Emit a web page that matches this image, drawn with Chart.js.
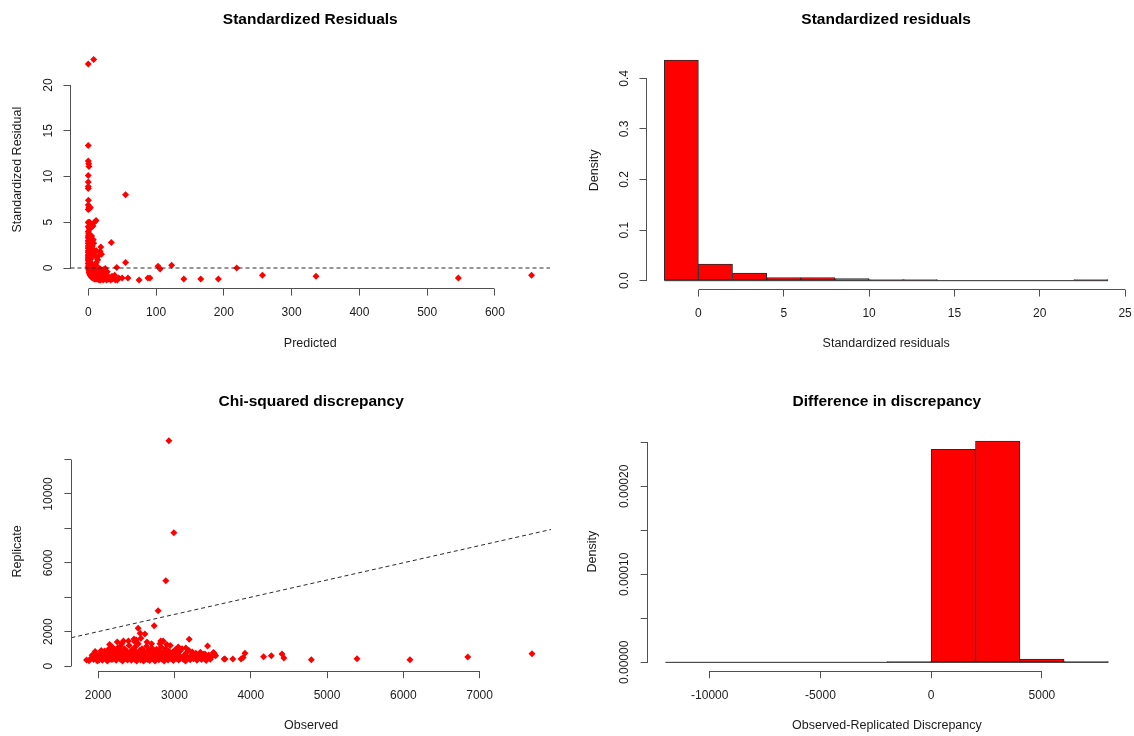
<!DOCTYPE html>
<html>
<head>
<meta charset="utf-8">
<title>Model checking plots</title>
<script src="https://cdn.jsdelivr.net/npm/chart.js@4.4.1/dist/chart.umd.min.js"></script>
<style>
  html, body { margin: 0; padding: 0; background: #ffffff; }
  #wrap { position: relative; width: 1134px; height: 736px; overflow: hidden; }
  #wrap canvas { position: absolute; }
</style>
</head>
<body>
<div id="wrap">
  <canvas id="pResid" width="567" height="368" style="left:0;top:0"></canvas>
  <canvas id="pResidHist" width="567" height="368" style="left:567px;top:0"></canvas>
  <canvas id="pChi" width="567" height="368" style="left:0;top:368px"></canvas>
  <canvas id="pDiff" width="567" height="368" style="left:567px;top:368px"></canvas>
</div>
<script>
// ---- Standardized residuals vs predicted: [predicted, standardized residual]
const residPairs = [
  [0,22.3],[8,22.8],[0,13.4],[0,11.7],[0.6,11.4],[1,11.1],[0,10.1],[0,9.4],[0,8.9],[0,8.7],
  [0.3,7.4],[0,6.9],[55,8.0],[1,6.6],[3,6.6],[0,6.4],[2,6.5],[0,5.0],[1,4.9],[2,5.0],
  [3,4.8],[11.5,5.2],[9,5.0],[7,4.6],[0,4.5],[1.5,4.3],[4,4.4],[0,4.0],[0.5,3.8],[1,3.7],
  [0,3.5],[2,3.6],[0,3.3],[1,3.2],[3,3.1],[0,3.0],[0.5,2.9],[2,2.8],[0,2.7],[1,2.6],
  [7.5,3.1],[0,2.4],[1.5,2.3],[0,2.2],[0.5,2.1],[2.5,2.0],[0,1.9],[1,1.8],[0,1.7],[3,1.6],
  [0.5,1.5],[0,1.4],[2,1.3],[0,1.2],[1,1.1],[4,1.0],[0,1.0],[0.5,0.9],[0,0.8],[2,0.7],
  [1,0.6],[0,0.5],[3,0.4],[0.5,0.3],[1.5,0.2],[0,0.1],[5,0.5],[6,1.6],[8,2.0],[8,2.7],
  [6,2.4],[5,3.5],[4,2.2],[10,1.3],[12,1.9],[34,2.8],[18.5,2.3],[17.5,1.8],[19.5,1.5],[16,1.4],
  [14,0.9],[12,0.6],[9,0.3],[55,0.6],[42,0.05],[25,-0.05],[103,0.2],[106,-0.1],[123,0.3],[219,0.0],
  [257,-0.8],[336,-0.9],[546,-1.1],[654,-0.8],
  [0.5,-0.1],[1,-0.3],[1.5,-0.5],[2,-0.6],[2.5,-0.7],[3,-0.8],[4,-0.9],[5,-1.0],[6,-1.0],[7,-1.1],
  [8,-1.1],[9,-1.2],[10,-1.2],[12,-1.2],[14,-1.2],[16,-1.3],[18,-1.3],[20,-1.2],[22,-1.3],[24,-1.2],
  [27,-1.3],[30,-1.2],[33,-1.3],[36,-1.2],[40,-1.3],[43,-1.3],[1,-0.1],[2,-0.3],[3,-0.4],[4,-0.5],
  [5,-0.6],[6,-0.6],[7,-0.8],[9,-0.9],[11,-0.7],[13,-1.0],[15,-0.9],[17,-1.1],[19,-0.9],[21,-1.0],
  [23,-0.8],[25,-1.1],[26,-0.6],[28,-0.9],[31,-1.0],[32,-1.1],[35,-0.9],[39,-0.8],[45,-1.1],[50,-1.1],
  [58.5,-1.1],[75,-1.3],[88,-1.1],[91,-1.1],[141,-1.2],[166,-1.2],[192,-1.2],[3,-0.1],[5,-0.2],[7,-0.3],
  [9,-0.5],[11,-0.2],[13,-0.4],[16,-0.6],[20,-0.5],[22,-0.2],[18,-0.1],[28,-0.4],[14,0.1],[10,0.2],[6,0.0]
];
const residRefLevel = 0;

// ---- Histogram of standardized residuals (density per bin)
const residBreaks = [-2, 0, 2, 4, 6, 8, 10, 12, 14, 16, 18, 20, 22, 24];
const residDensity = [0.436, 0.033, 0.015, 0.006, 0.006, 0.004, 0.002, 0.002, 0, 0, 0, 0, 0.002];

// ---- Chi-squared discrepancy: [observed, replicate]
const discPairs = [
  [2927,13100],[2992,7750],[2887,4960],[2786,3215],[2734,2345],[2524,2190],[2550,1900],[2612,1860],[2560,1620],[2500,1510],
  [2470,1570],[2475,1420],[2397,1450],[2331,1450],[2852,1450],[2820,1450],[3193,1550],[3434,1163],[3529,640],[3651,407],
  [3521,738],[3662,407],[3765,407],[3924,740],[3872,407],[3900,500],[4168,543],[4270,601],[4410,698],[4434,465],
  [4794,368],[5393,426],[6087,368],[6845,523],[7687,717],[1848,349],[1880,310],[1925,500],
  [1900,420],[1920,620],[1940,380],[1960,700],[1975,520],[1990,300],[2010,640],[2025,450],[2040,780],[2055,340],
  [2070,560],[2085,880],[2100,420],[2110,690],[2120,300],[2135,980],[2145,520],[2160,760],[2170,380],[2185,1100],
  [2195,600],[2210,450],[2220,830],[2235,330],[2245,700],[2255,1050],[2265,520],[2280,920],[2290,400],[2300,650],
  [2310,780],[2320,300],[2335,560],[2345,1000],[2355,440],[2365,720],[2375,860],[2385,350],[2395,600],[2405,1200],
  [2415,480],[2425,790],[2435,330],[2445,950],[2455,560],[2465,680],[2475,400],[2485,1100],[2495,820],[2505,300],
  [2515,620],[2525,1300],[2535,470],[2545,900],[2555,370],[2565,720],[2575,1000],[2585,540],[2595,300],[2605,850],
  [2615,450],[2625,680],[2635,1150],[2645,380],[2655,600],[2665,930],[2675,320],[2685,760],[2695,520],[2705,1050],
  [2715,420],[2725,650],[2735,860],[2745,300],[2755,580],[2765,980],[2775,440],[2785,720],[2795,360],[2805,900],
  [2815,540],[2825,1100],[2835,400],[2845,680],[2855,820],[2865,300],[2875,600],[2885,1000],[2895,460],[2905,740],
  [2915,350],[2925,880],[2935,560],[2945,1200],[2955,420],[2965,660],[2975,800],[2985,320],[2995,580],[3010,950],
  [3025,440],[3040,700],[3055,350],[3070,860],[3085,520],[3100,1000],[3115,400],[3130,640],[3145,300],[3160,780],
  [3175,480],[3190,900],[3205,360],[3220,620],[3235,820],[3250,420],[3265,560],[3280,740],[3295,330],[3310,650],
  [3325,480],[3340,800],[3355,380],[3370,580],[3385,450],[3400,700],[3415,320],[3430,520],[3450,640],[3470,400],
  [3490,560],[3510,780],[3540,600],
  [2010,350],[2060,480],[2130,620],[2190,400],[2240,540],[2300,480],[2360,580],[2420,620],[2480,520],[2540,640],
  [2600,560],[2660,500],[2720,560],[2780,600],[2840,520],[2900,580],[2960,500],[3020,620],[3080,450],[3140,540],
  [3200,500],[3260,640],[3320,560],[3380,680],[2210,950],[2290,1150],[2150,1250],[2250,1400],[2310,1300],[2700,1300],
  [2640,1400],[2810,1300],[2900,1250],[3050,1100],[3150,1050],[2160,880],[2040,900],[1960,850]
];
const discRefSlope = 1;
const discRefIntercept = 0;

// ---- Histogram of observed minus replicated discrepancy (density per bin)
const diffBreaks = [-12000, -10000, -8000, -6000, -4000, -2000, 0, 2000, 4000, 6000, 8000];
const diffDensity = [0, 0, 0, 0, 0, 0.000001, 0.000242, 0.0002515, 0.0000038, 0.000001];

// ---- Tick values and their printed labels
const residXTicks = [0, 100, 200, 300, 400, 500, 600];
const residXLabels = ['0', '100', '200', '300', '400', '500', '600'];
const residYTicks = [0, 5, 10, 15, 20];
const residYLabels = ['0', '5', '10', '15', '20'];
const histXTicks = [0, 5, 10, 15, 20, 25];
const histXLabels = ['0', '5', '10', '15', '20', '25'];
const histYTicks = [0, 0.1, 0.2, 0.3, 0.4];
const histYLabels = ['0.0', '0.1', '0.2', '0.3', '0.4'];
const chiXTicks = [2000, 3000, 4000, 5000, 6000, 7000];
const chiXLabels = ['2000', '3000', '4000', '5000', '6000', '7000'];
const chiYTicks = [0, 2000, 4000, 6000, 8000, 10000, 12000];
const chiYLabels = ['0', '2000', '', '6000', '', '10000', ''];
const diffXTicks = [-10000, -5000, 0, 5000];
const diffXLabels = ['-10000', '-5000', '0', '5000'];
const diffYTicks = [0, 0.00005, 0.0001, 0.00015, 0.0002, 0.00025];
const diffYLabels = ['0.00000', '', '0.00010', '', '0.00020', ''];

// ---- Styling
const FAMILY = '"Liberation Sans", Arial, Helvetica, sans-serif';
const AX_SIZE = 12.5;
const TICK_SIZE = 12;
const MAIN_SIZE = 15.5;
const TICK_LEN = 7;
const AXIS_COLOR = '#505050';
const TEXT_COLOR = '#1c1c1c';
const POINT_RED = '#ff0000';
const BAR_EDGE = '#2a2a2a';
const PANEL_W = 567, PANEL_H = 368;

Chart.defaults.font.family = FAMILY;
Chart.defaults.color = TEXT_COLOR;

const measure = document.createElement('canvas').getContext('2d');
function widest(labels) {
  measure.font = TICK_SIZE + 'px ' + FAMILY;
  return Math.max(...labels.map(s => measure.measureText(s).width));
}

// Axis line drawn only between the first and last tick, like base R graphics
const tickSpanAxes = {
  id: 'tickSpanAxes',
  afterDraw(chart) {
    const ctx = chart.ctx;
    const area = chart.chartArea;
    const align = p => Math.round(p - 0.5) + 0.5;
    ctx.save();
    ctx.strokeStyle = AXIS_COLOR;
    ctx.lineWidth = 1;
    ['x', 'y'].forEach(id => {
      const s = chart.scales[id];
      const a = align(s.getPixelForValue(s.ticks[0].value));
      const b = align(s.getPixelForValue(s.ticks[s.ticks.length - 1].value));
      ctx.beginPath();
      if (s.isHorizontal()) {
        const y = align(area.bottom);
        ctx.moveTo(a, y); ctx.lineTo(b, y);
      } else {
        const x = align(area.left);
        ctx.moveTo(x, a); ctx.lineTo(x, b);
      }
      ctx.stroke();
    });
    ctx.restore();
  }
};

function axis(o) {
  const vertical = o.pos === 'left';
  return {
    type: 'linear',
    position: o.pos,
    min: o.lim[0],
    max: o.lim[1],
    offset: false,
    afterBuildTicks: s => { s.ticks = o.ticks.map(v => ({ value: v })); },
    afterFit: s => {
      if (vertical) s.width = o.size; else s.height = o.size;
      s.paddingLeft = 0; s.paddingRight = 0; s.paddingTop = 0; s.paddingBottom = 0;
    },
    grid: {
      display: true, drawOnChartArea: false, drawTicks: true, offset: false,
      tickLength: TICK_LEN, tickWidth: 1, tickColor: AXIS_COLOR, color: AXIS_COLOR
    },
    border: { display: false },
    ticks: {
      autoSkip: false,
      font: { size: TICK_SIZE },
      color: TEXT_COLOR,
      padding: o.tickPad,
      minRotation: vertical ? 90 : 0,
      maxRotation: vertical ? 90 : 0,
      crossAlign: vertical ? 'center' : 'near',
      callback: (v, i) => o.labels[i]
    },
    title: {
      display: true,
      text: o.title,
      font: { size: AX_SIZE },
      color: TEXT_COLOR,
      padding: vertical ? { top: o.titlePad, bottom: 0 } : { top: 0, bottom: o.titlePad }
    }
  };
}

// g: plot region and text positions inside the panel (pixels)
function panel(canvasId, type, datasets, g, xa, ya, main) {
  const lineH = AX_SIZE * 1.2;
  const tickLineH = TICK_SIZE * 1.2;
  const mainLineH = MAIN_SIZE * 1.2;
  const mainTop = g.mainY - mainLineH / 2;
  new Chart(document.getElementById(canvasId), {
    type: type,
    data: { datasets: datasets },
    plugins: [tickSpanAxes],
    options: {
      responsive: false,
      animation: false,
      devicePixelRatio: 1,
      events: [],
      layout: { padding: { left: 0, top: 0, bottom: 0, right: PANEL_W - g.R } },
      plugins: {
        legend: { display: false },
        tooltip: { enabled: false },
        title: {
          display: true, text: main, fullSize: false, color: '#000000',
          font: { size: MAIN_SIZE, weight: 'bold' },
          padding: { top: mainTop, bottom: g.T - mainTop - mainLineH }
        }
      },
      scales: {
        x: axis({
          pos: 'bottom', lim: xa.lim, ticks: xa.ticks, labels: xa.labels, title: xa.title,
          size: PANEL_H - g.B,
          tickPad: g.xLabelY - g.B - TICK_LEN - tickLineH / 2,
          titlePad: PANEL_H - g.xTitleY - lineH / 2
        }),
        y: axis({
          pos: 'left', lim: ya.lim, ticks: ya.ticks, labels: ya.labels, title: ya.title,
          size: g.L,
          tickPad: g.yLabelD - TICK_LEN - widest(ya.labels) / 2,
          titlePad: g.yTitleX - lineH / 2
        })
      }
    }
  });
}

function scatterSet(pairs) {
  return {
    type: 'scatter',
    data: pairs.map(p => ({ x: p[0], y: p[1] })),
    pointStyle: 'rectRot',
    pointRadius: 3.5,
    pointBackgroundColor: POINT_RED,
    pointBorderColor: POINT_RED,
    pointBorderWidth: 0,
    showLine: false
  };
}
function dashedSet(points) {
  return {
    type: 'line', data: points, borderColor: '#2b2b2b', borderWidth: 1,
    borderDash: [4, 3], pointRadius: 0, fill: false, tension: 0
  };
}
function histSets(breaks, density) {
  const bins = density.map((d, i) => ({ x: (breaks[i] + breaks[i + 1]) / 2, y: d }));
  return [
    {
      type: 'line',
      data: [{ x: breaks[0], y: 0 }, { x: breaks[breaks.length - 1], y: 0 }],
      borderColor: BAR_EDGE, borderWidth: 1, pointRadius: 0, fill: false
    },
    {
      type: 'bar', data: bins,
      backgroundColor: POINT_RED, borderColor: BAR_EDGE, borderWidth: 1,
      borderSkipped: false, barPercentage: 1, categoryPercentage: 1
    }
  ];
}

// Panel 1: standardized residuals against predicted values
const residXLim = [-26.2, 681.2];
const residYLim = [-2.25, 23.75];
panel('pResid', 'scatter', [
  dashedSet([{ x: residXLim[0], y: residRefLevel }, { x: residXLim[1], y: residRefLevel }]),
  scatterSet(residPairs)
], { L: 70.5, R: 550, T: 50.7, B: 288.6, mainY: 20, xLabelY: 313, xTitleY: 344, yTitleX: 17.5, yLabelD: 21.5 },
  { lim: residXLim, ticks: residXTicks, labels: residXLabels, title: 'Predicted' },
  { lim: residYLim, ticks: residYTicks, labels: residYLabels, title: 'Standardized Residual' },
  'Standardized Residuals');

// Panel 2: histogram of standardized residuals
panel('pResidHist', 'bar', histSets(residBreaks, residDensity),
  { L: 79.5, R: 558.8, T: 51.3, B: 289.5, mainY: 20, xLabelY: 313.3, xTitleY: 344, yTitleX: 27.1, yLabelD: 22.3 },
  { lim: [-3.04, 25.04], ticks: histXTicks, labels: histXLabels, title: 'Standardized residuals' },
  { lim: [-0.01744, 0.45344], ticks: histYTicks, labels: histYLabels, title: 'Density' },
  'Standardized residuals');

// Panel 3: replicated against observed chi-squared discrepancy, with the y = x line
const chiXLim = [1649, 7936];
panel('pChi', 'scatter', [
  dashedSet(chiXLim.map(x => ({ x: x, y: discRefIntercept + discRefSlope * x }))),
  scatterSet(discPairs)
], { L: 71.4, R: 551, T: 63.7, B: 303.2, mainY: 34, xLabelY: 327.3, xTitleY: 358, yTitleX: 17.1, yLabelD: 23.2 },
  { lim: chiXLim, ticks: chiXTicks, labels: chiXLabels, title: 'Observed' },
  { lim: [-300, 13620], ticks: chiYTicks, labels: chiYLabels, title: 'Replicate' },
  'Chi-squared discrepancy');

// Panel 4: histogram of the discrepancy difference
panel('pDiff', 'bar', histSets(diffBreaks, diffDensity),
  { L: 80.7, R: 559.1, T: 64.1, B: 303.2, mainY: 34, xLabelY: 327.3, xTitleY: 358, yTitleX: 26, yLabelD: 23 },
  { lim: [-12800, 8800], ticks: diffXTicks, labels: diffXLabels, title: 'Observed-Replicated Discrepancy' },
  { lim: [-0.00001006, 0.0002616], ticks: diffYTicks, labels: diffYLabels, title: 'Density' },
  'Difference in discrepancy');
</script>
</body>
</html>
